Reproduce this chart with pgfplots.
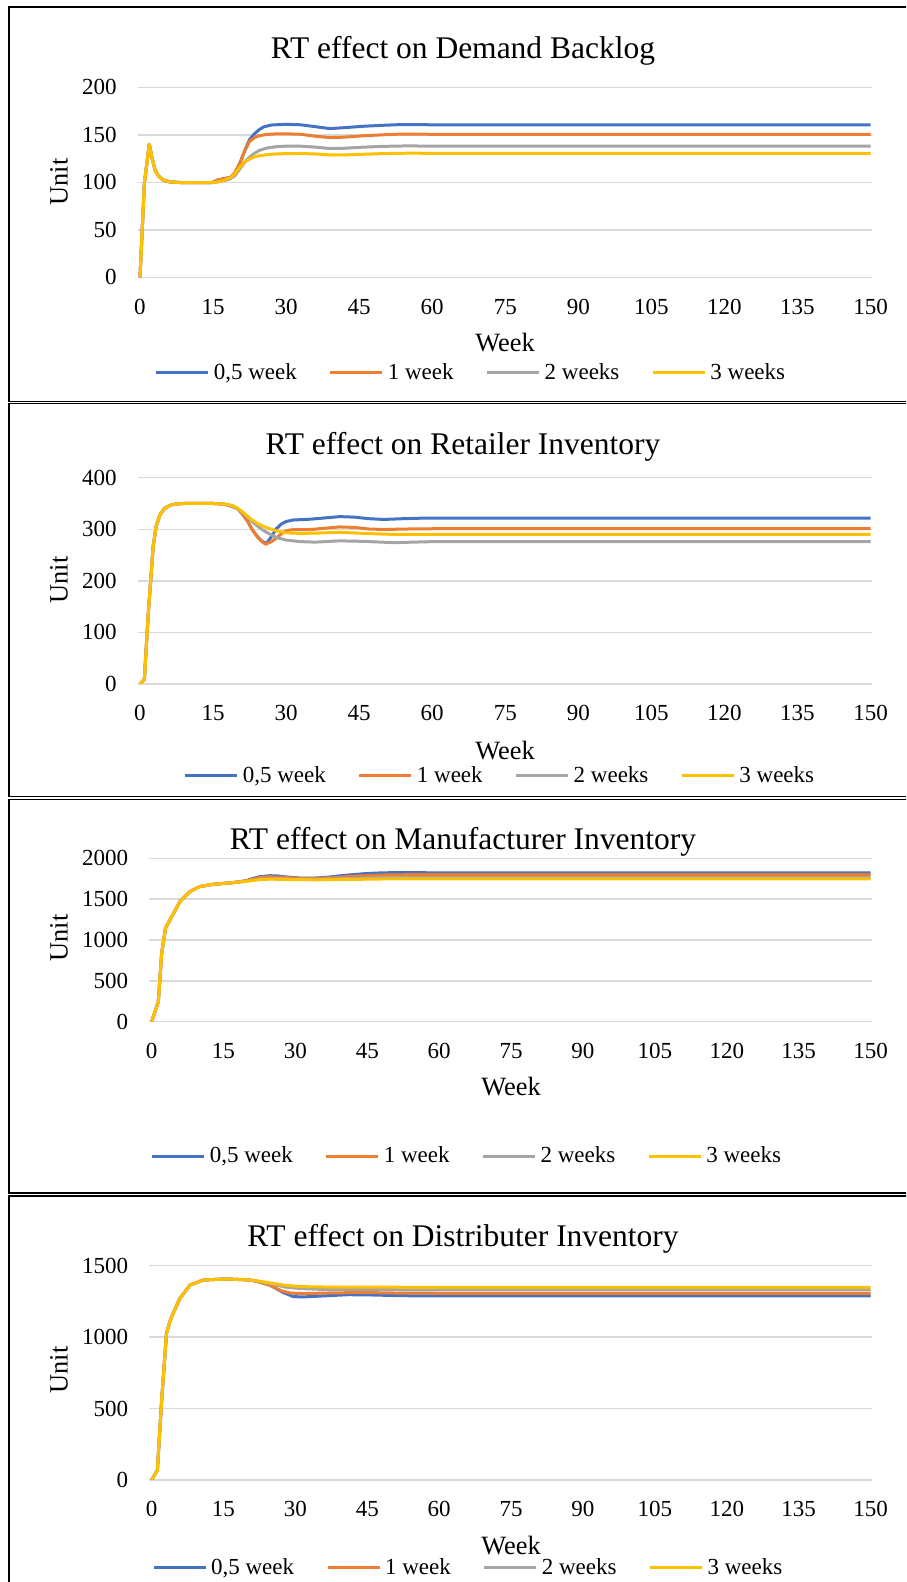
\documentclass[border=0pt]{standalone}
\usepackage{fontspec}
\setmainfont{Liberation Serif}
\usepackage{pgfplots}
\pgfplotsset{compat=1.18}

\definecolor{sBlue}{HTML}{4472C4}
\definecolor{sOrange}{HTML}{ED7D31}
\definecolor{sGray}{HTML}{A5A5A5}
\definecolor{sYellow}{HTML}{FFC000}
\definecolor{gridgray}{HTML}{D9D9D9}

\pgfplotsset{
  rtpanel/.style={
    scale only axis,
    xmin=-0.5, xmax=150.3, ymin=0,
    axis line style={draw=none},
    major tick length=0pt,
    xtick={0,15,...,150},
    ymajorgrids,
    grid style={line width=0.75pt, color=gridgray},
    scaled y ticks=false,
    /pgf/number format/assume math mode=true,
    /pgf/number format/1000 sep={},
    tick label style={font=\fontsize{11.5}{13}\selectfont},
    xticklabel style={anchor=base, inner sep=0pt, yshift=-18.4pt},
    yticklabel style={anchor=east, inner sep=0pt, xshift=-10.3pt},
    legend columns=4,
    legend cell align=left,
    legend style={draw=none, fill=none, anchor=center,
      font=\fontsize{11.5}{13}\selectfont,
      /tikz/every even column/.append style={column sep=14pt}},
    legend image code/.code={\draw[##1] (0pt,0pt) -- (26pt,0pt);},
    every axis plot/.append style={line width=1.5pt, line join=round, mark=none},
  },
  sA/.style={sBlue},
  sB/.style={sOrange},
  sC/.style={sGray},
  sD/.style={sYellow},
}

\begin{document}
\begin{tikzpicture}
\path[use as bounding box] (0,0) rectangle (453pt,791pt);

% panel frames
\begin{scope}
\clip (0,0) rectangle (453pt,791pt);
\draw[line width=0.65pt] (4.5pt,787.5pt) rectangle (470pt,590.25pt);
\draw[line width=0.65pt] (4.5pt,589.25pt) rectangle (470pt,392.75pt);
\draw[line width=0.65pt] (4.5pt,391.35pt) rectangle (470pt,194.5pt);
\draw[line width=0.65pt] (4.5pt,193pt) rectangle (470pt,-10pt);
\end{scope}

% ---------------- Demand Backlog ----------------
\begin{axis}[rtpanel, at={(68.78pt,652.35pt)}, anchor=south west,
  width=367.2pt, height=95pt, ymax=200, ytick={0,50,...,200},
  legend style={at={(axis description cs:0.4554,-0.5037)}}]
\addplot[sA] coordinates {(0,0)(0.9,99)(1.9,140)(2.5,125)(3.1,113)(3.8,106.5)(4.8,102.3)(6.2,100.3)(8,99.8)(10,99.5)(14,99.5)(15,100)(16,102.5)(17.5,104)(18.5,105)(19.5,110)(20.5,120)(21.5,133)(22.5,145)(23.5,151)(24.5,155.5)(25.5,158.5)(27,160.3)(30,161)(33,160.5)(36,158.5)(39,156.5)(42,157.5)(46,159)(50,160)(54,160.8)(60,160.5)(150,160.5)};
\addplot[sB] coordinates {(0,0)(0.9,99)(1.9,140)(2.5,125)(3.1,113)(3.8,106.5)(4.8,102.3)(6.2,100.3)(8,99.8)(10,99.5)(14,99.5)(15,100)(16,102.5)(17.5,104)(18.5,105)(19.5,110)(20.5,120)(21.5,133)(22.5,143)(23.5,147)(24.5,149)(26,150.3)(28,151)(30,151)(33,150.5)(36,148.5)(39,147)(42,147.5)(46,149)(50,150)(54,150.8)(60,150.5)(150,150.5)};
\addplot[sC] coordinates {(0,0)(0.9,99)(1.9,140)(2.5,125)(3.1,113)(3.8,106.5)(4.8,102.3)(6.2,100.3)(8,99.8)(10,99.5)(14,99.5)(15,99.5)(16,100.5)(17.5,102)(18.5,103.5)(19.5,107)(20.5,114)(21.5,121)(22.5,126.5)(23.5,130.5)(24.5,133.5)(26,136)(28,137.5)(30,138)(33,138)(36,137)(39,135.5)(42,135.8)(46,137)(50,137.8)(55,138.3)(60,138)(150,138)};
\addplot[sD] coordinates {(0,0)(0.9,99)(1.9,140)(2.5,125)(3.1,113)(3.8,106.5)(4.8,102.3)(6.2,100.3)(8,99.8)(10,99.5)(14,99.5)(15,99.5)(16,100.5)(17.5,102.5)(18.5,104.5)(19.5,109)(20.5,116)(21.5,121.5)(22.5,124.5)(23.5,126.5)(24.5,128)(26,129)(28,129.8)(30,130.2)(33,130.3)(36,129.8)(39,128.7)(42,128.8)(46,129.5)(50,130.2)(55,130.6)(60,130.5)(150,130.5)};
\legend{{0,5 week}, {1 week}, {2 weeks}, {3 weeks}}
\end{axis}

% ---------------- Retailer Inventory ----------------
\begin{axis}[rtpanel, at={(68.78pt,449pt)}, anchor=south west,
  width=367.2pt, height=103.15pt, ymax=400, ytick={0,100,...,400},
  legend style={at={(axis description cs:0.4949,-0.446)}}]
\addplot[sA] coordinates {(0,0)(0.9,9)(1.7,137)(2.7,266)(3.3,305)(4.1,328)(5,340)(5.5,343)(6.5,347.5)(7.5,349)(9,350)(15,350)(17,349)(18,347)(19,344)(20,340)(21,330)(22,317)(23,300)(24,287)(25,277)(26,272.5)(27,286)(28,301)(29,310)(30,315)(31.5,318)(35,319.5)(38,322)(41,324.5)(44,323.5)(47,320.5)(50,319)(54,320.5)(58,321.5)(150,321.5)};
\addplot[sB] coordinates {(0,0)(0.9,9)(1.7,137)(2.7,266)(3.3,305)(4.1,328)(5,340)(5.5,343)(6.5,347.5)(7.5,349)(9,350)(15,350)(17,349)(18,347)(19,344)(20,340)(21,330)(22,317)(23,300)(24,286)(25,276)(25.8,271)(27,276)(28,283)(29,291)(30,297)(31,299)(35,299.5)(38,302)(41,304.5)(44,303.5)(47,300.5)(50,299.5)(55,300.5)(60,301)(150,301)};
\addplot[sC] coordinates {(0,0)(0.9,9)(1.7,137)(2.7,266)(3.3,305)(4.1,328)(5,340)(5.5,343)(6.5,347.5)(7.5,349)(9,350)(15,350)(17,349)(18,348)(19,345)(20,340)(21,333)(22,324)(23,315)(24,307)(25,300)(26,294)(27,289)(28,284)(30,279)(33,276)(36,275)(41,277.5)(46,276.5)(52,274)(60,276)(150,276)};
\addplot[sD] coordinates {(0,0)(0.9,9)(1.7,137)(2.7,266)(3.3,305)(4.1,328)(5,340)(5.5,343)(6.5,347.5)(7.5,349)(9,350)(15,350)(17,349)(18,348)(19,346)(20,341)(21,334)(22,326)(23,318)(24,312)(25,307)(26,303)(28,297)(30,293)(33,292)(36,292.5)(41,294)(46,292)(52,290)(60,290)(150,290)};
\legend{{0,5 week}, {1 week}, {2 weeks}, {3 weeks}}
\end{axis}

% ---------------- Manufacturer Inventory ----------------
\begin{axis}[rtpanel, at={(74.6pt,280.15pt)}, anchor=south west,
  width=361.4pt, height=81.7pt, ymax=2000, ytick={0,500,...,2000},
  legend style={at={(axis description cs:0.441,-0.822)}}]
\addplot[sA] coordinates {(0,0)(1.4,245)(2.1,837)(2.9,1143)(4.2,1286)(5.9,1469)(8,1592)(10,1653)(12.9,1682)(17,1702)(19,1718)(20,1730)(21,1750)(22.6,1775)(24.7,1787)(26,1785)(28,1772)(31,1758)(34,1758)(36.5,1767)(40,1790)(44,1810)(48,1822)(52,1825)(60,1822)(150,1822)};
\addplot[sB] coordinates {(0,0)(1.4,245)(2.1,837)(2.9,1143)(4.2,1286)(5.9,1469)(8,1592)(10,1653)(12.9,1682)(17,1702)(19,1718)(20,1728)(22.6,1765)(24.7,1775)(28,1765)(31,1755)(34,1754)(37,1760)(42,1780)(48,1795)(55,1800)(150,1800)};
\addplot[sC] coordinates {(0,0)(1.4,245)(2.1,837)(2.9,1143)(4.2,1286)(5.9,1469)(8,1592)(10,1653)(12.9,1682)(17,1702)(19,1716)(20,1722)(22.6,1745)(25,1752)(30,1745)(35,1744)(42,1755)(50,1765)(150,1765)};
\addplot[sD] coordinates {(0,0)(1.4,245)(2.1,837)(2.9,1143)(4.2,1286)(5.9,1469)(8,1592)(10,1653)(12.9,1682)(17,1702)(19,1715)(20,1720)(22.6,1740)(25,1745)(30,1738)(35,1737)(42,1742)(50,1748)(150,1748)};
\legend{{0,5 week}, {1 week}, {2 weeks}, {3 weeks}}
\end{axis}

% ---------------- Distributer Inventory ----------------
\begin{axis}[rtpanel, at={(74.6pt,51pt)}, anchor=south west,
  width=361.4pt, height=107.15pt, ymax=1500, ytick={0,500,...,1500},
  legend style={at={(axis description cs:0.4427,-0.4106)}}]
\addplot[sA] coordinates {(0,0)(1.2,68)(2.1,558)(3.1,1026)(3.8,1107)(4.2,1143)(5.9,1271)(8,1364)(10.8,1400)(15.6,1407)(20.5,1400)(22,1390)(24.7,1364)(27.5,1311)(29.6,1283)(32,1282)(35,1287)(41,1297)(46,1295)(52,1290)(60,1288)(150,1288)};
\addplot[sB] coordinates {(0,0)(1.2,68)(2.1,558)(3.1,1026)(3.8,1107)(4.2,1143)(5.9,1271)(8,1364)(10.8,1400)(15.6,1407)(20.5,1400)(22,1390)(24.7,1364)(27,1325)(29,1308)(32,1305)(38,1310)(45,1312)(52,1308)(60,1307)(150,1307)};
\addplot[sC] coordinates {(0,0)(1.2,68)(2.1,558)(3.1,1026)(3.8,1107)(4.2,1143)(5.9,1271)(8,1364)(10.8,1400)(15.6,1407)(20.5,1400)(22,1392)(25,1372)(28,1350)(31,1340)(35,1335)(45,1333)(60,1330)(150,1330)};
\addplot[sD] coordinates {(0,0)(1.2,68)(2.1,558)(3.1,1026)(3.8,1107)(4.2,1143)(5.9,1271)(8,1364)(10.8,1400)(15.6,1407)(20.5,1400)(22,1394)(25,1378)(28,1362)(31,1354)(35,1351)(45,1350)(60,1348)(150,1348)};
\legend{{0,5 week}, {1 week}, {2 weeks}, {3 weeks}}
\end{axis}

% titles and axis names
\begin{scope}[every node/.style={inner sep=0pt}]
\node[anchor=base, font=\fontsize{15.75}{18}\selectfont] at (231.5pt,761.85pt) {RT effect on Demand Backlog};
\node[anchor=base, font=\fontsize{15.75}{18}\selectfont] at (231.5pt,563.75pt) {RT effect on Retailer Inventory};
\node[anchor=base, font=\fontsize{15.75}{18}\selectfont] at (231.5pt,366.25pt) {RT effect on Manufacturer Inventory};
\node[anchor=base, font=\fontsize{15.75}{18}\selectfont] at (231.5pt,167.5pt) {RT effect on Distributer Inventory};

\node[anchor=base, font=\fontsize{13.2}{15}\selectfont] at (252.5pt,615.2pt) {Week};
\node[anchor=base, font=\fontsize{13.2}{15}\selectfont] at (252.5pt,411.2pt) {Week};
\node[anchor=base, font=\fontsize{13.2}{15}\selectfont] at (255.5pt,243.2pt) {Week};
\node[anchor=base, font=\fontsize{13.2}{15}\selectfont] at (255.5pt,13.9pt) {Week};

\node[rotate=90, font=\fontsize{13.2}{15}\selectfont] at (29.5pt,700pt) {Unit};
\node[rotate=90, font=\fontsize{13.2}{15}\selectfont] at (29.5pt,501pt) {Unit};
\node[rotate=90, font=\fontsize{13.2}{15}\selectfont] at (29.5pt,322pt) {Unit};
\node[rotate=90, font=\fontsize{13.2}{15}\selectfont] at (29.5pt,106pt) {Unit};
\end{scope}
\end{tikzpicture}
\end{document}
